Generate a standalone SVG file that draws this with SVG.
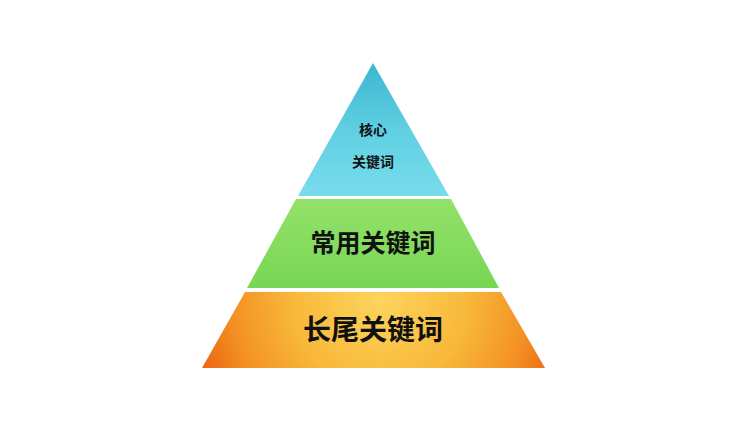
<svg xmlns="http://www.w3.org/2000/svg" width="740" height="430" viewBox="0 0 740 430">
<style>
.t{font-family:"Noto Sans CJK SC","Noto Sans",sans-serif;font-weight:bold;fill:#111;text-anchor:middle}
</style>
<defs>
<linearGradient id="gTop" x1="0" y1="0" x2="0" y2="1">
<stop offset="0" stop-color="#3cb6cf"/>
<stop offset="0.5" stop-color="#5fcfe2"/>
<stop offset="1" stop-color="#79dcec"/>
</linearGradient>
<linearGradient id="gMid" x1="0" y1="0" x2="0" y2="1">
<stop offset="0" stop-color="#94e26a"/>
<stop offset="1" stop-color="#78d654"/>
</linearGradient>
<radialGradient id="gBot" gradientUnits="userSpaceOnUse" cx="380" cy="300" r="195">
<stop offset="0" stop-color="#fcd45c"/>
<stop offset="0.45" stop-color="#f8b83a"/>
<stop offset="0.75" stop-color="#f39224"/>
<stop offset="1" stop-color="#ec5e10"/>
</radialGradient>
</defs>
<rect width="740" height="430" fill="#ffffff"/>
<g id="top">
<polygon points="373,63 449,196 298,196" fill="url(#gTop)"/>
<text class="t" x="373" y="135" font-size="14">核心</text>
<text class="t" x="373" y="167" font-size="14">关键词</text>
</g>
<g id="middle">
<polygon points="296,199 451,199 499,288 247,288" fill="url(#gMid)"/>
<text class="t" x="373" y="252" font-size="25">常用关键词</text>
</g>
<g id="bottom">
<polygon points="245,292 501,292 545,368 202,368" fill="url(#gBot)"/>
<text class="t" x="373" y="340" font-size="28">长尾关键词</text>
</g>
<g id="connectors"/>
</svg>
